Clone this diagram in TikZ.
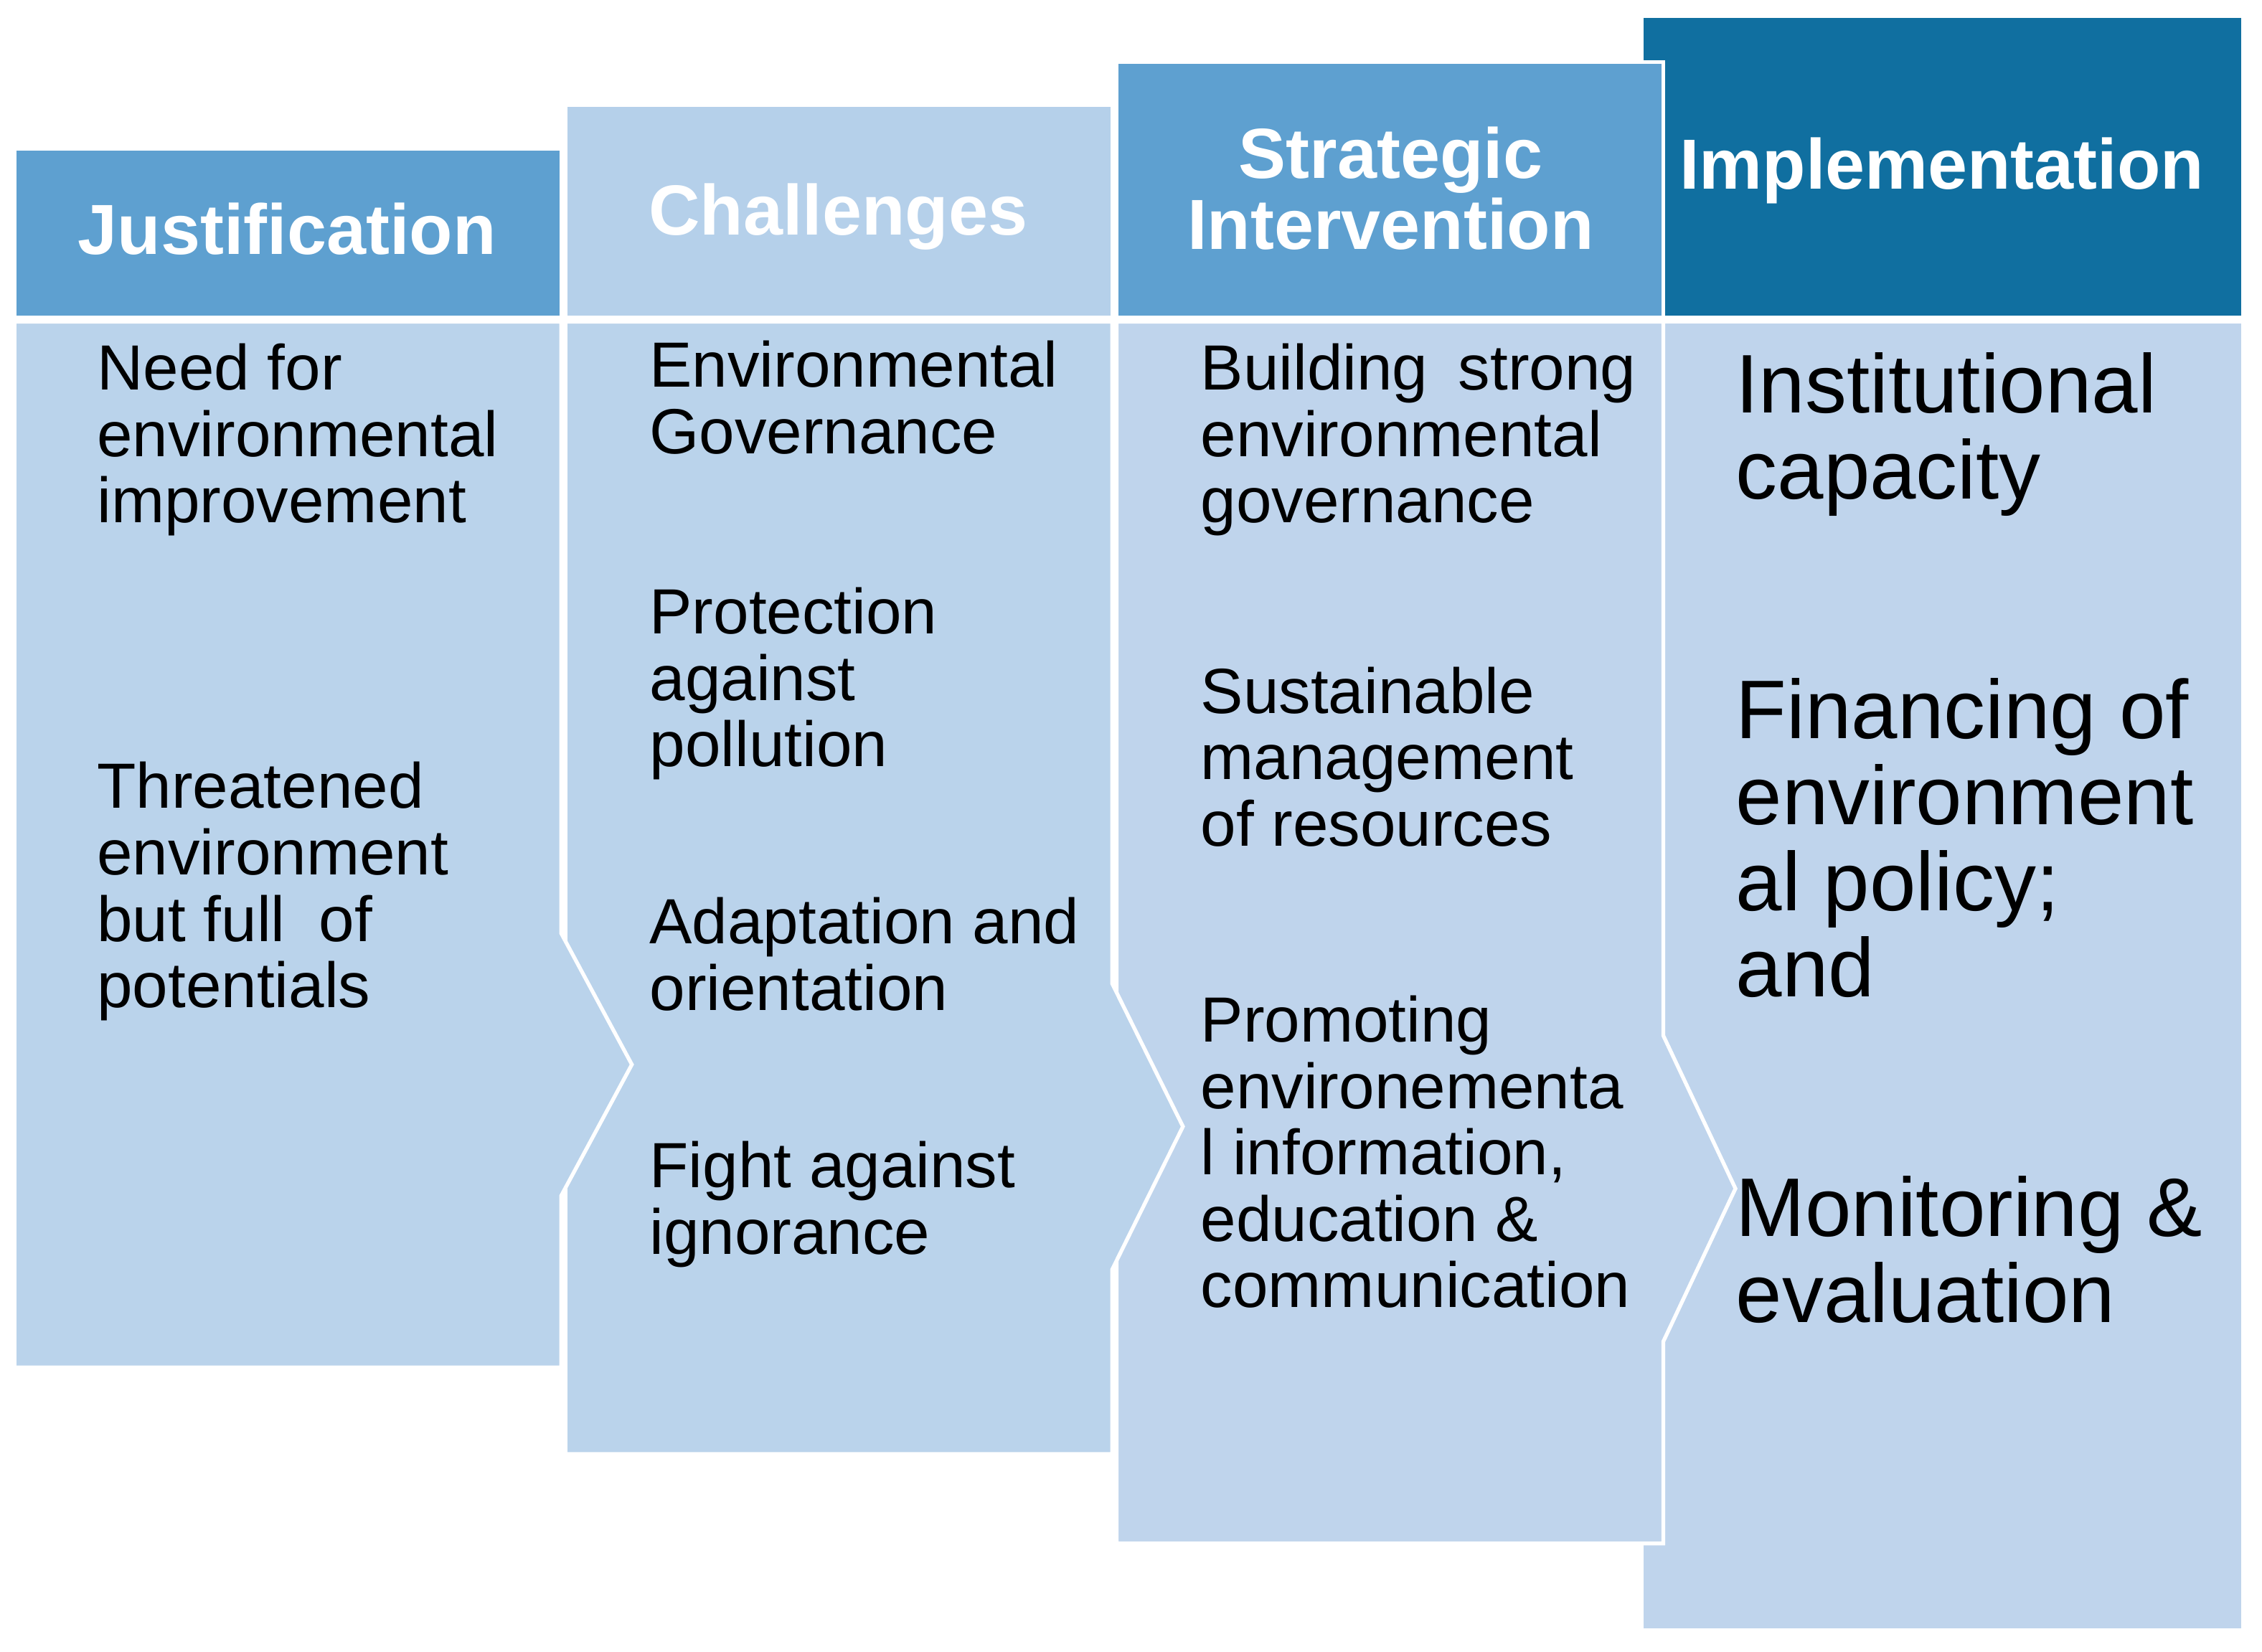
\documentclass[tikz,border=0pt]{standalone}
\usepackage{fontspec}
\setmainfont{Liberation Sans}
\definecolor{hdrmid}{HTML}{5EA0D0}
\definecolor{hdrlight}{HTML}{B5D0EA}
\definecolor{hdrdark}{HTML}{106FA0}
\definecolor{bodyA}{HTML}{BAD3EB}
\definecolor{bodyB}{HTML}{BFD4EC}
\begin{document}
\begin{tikzpicture}[x=0.02cm,y=-0.02cm,line width=1.5pt,
  hdr/.style={text=white,font=\fontsize{28}{28}\selectfont\bfseries,align=center,inner sep=0pt},
  txt/.style={anchor=north west,align=left,inner sep=0pt,font=\fontsize{25.2}{26.2}\selectfont},
  bigtxt/.style={anchor=north west,align=left,inner sep=0pt,font=\fontsize{32.8}{33.9}\selectfont}]

\useasboundingbox (0,0) rectangle (1568,1145);

% implementation (back)
\filldraw [draw=white,fill=hdrdark] (1138,11) rectangle (1555,220);
\filldraw [draw=white,fill=bodyB] (1138,223) rectangle (1555,1130);

% strategic intervention
\filldraw [draw=white,fill=hdrmid] (774,43) rectangle (1153,220);
\filldraw [draw=white,fill=bodyB] (774,223) -- (1153,223) -- (1153,718) -- (1203,824)
  -- (1153,930) -- (1153,1070) -- (774,1070) -- cycle;

% challenges
\filldraw [draw=white,fill=hdrlight] (392,73) rectangle (771,220);
\filldraw [draw=white,fill=bodyA] (392,223) -- (771,223) -- (771,682) -- (820,781)
  -- (771,880) -- (771,1008) -- (392,1008) -- cycle;

% justification (front)
\filldraw [draw=white,fill=hdrmid] (10,103) rectangle (389,220);
\filldraw [draw=white,fill=bodyA] (10,223) -- (389,223) -- (389,647) -- (438,738)
  -- (389,829) -- (389,948) -- (10,948) -- cycle;

\node (hjust) [hdr,anchor=base] at (199,176.5) {Justification};
\node (hchal) [hdr,anchor=base] at (581,163) {Challenges};
\node (hstrat) [hdr,anchor=north] at (964,86.5) {Strategic\\Intervention};
\node (himpl) [hdr,anchor=base] at (1346,131) {Implementation};

\node (just1) [txt] at (66,237) {Need for\\environmental\\improvement};
\node (just2) [txt] at (66,527) {Threatened\\environment\\but full \hspace{.25em}of\\potentials};

\node (chal1) [txt] at (449,235) {Environmental\\Governance};
\node (chal2) [txt] at (449,406) {Protection\\against\\pollution};
\node (chal3) [txt] at (449,621) {Adaptation and\\orientation};
\node (chal4) [txt] at (449,790) {Fight against\\ignorance};

\node (strat1) [txt] at (831,237) {Building \hspace{.2em}strong\\environmental\\governance};
\node (strat2) [txt] at (831,461) {Sustainable\\management\\of resources};
\node (strat3) [txt] at (831,689) {Promoting\\environementa\\l information,\\education \&\\communication};

\node (impl1) [bigtxt] at (1202,243) {Institutional\\capacity};
\node (impl2) [bigtxt] at (1202,469) {Financing of\\environment\\al policy;\\and};
\node (impl3) [bigtxt] at (1202,814) {Monitoring \&\\evaluation};

\end{tikzpicture}
\end{document}
